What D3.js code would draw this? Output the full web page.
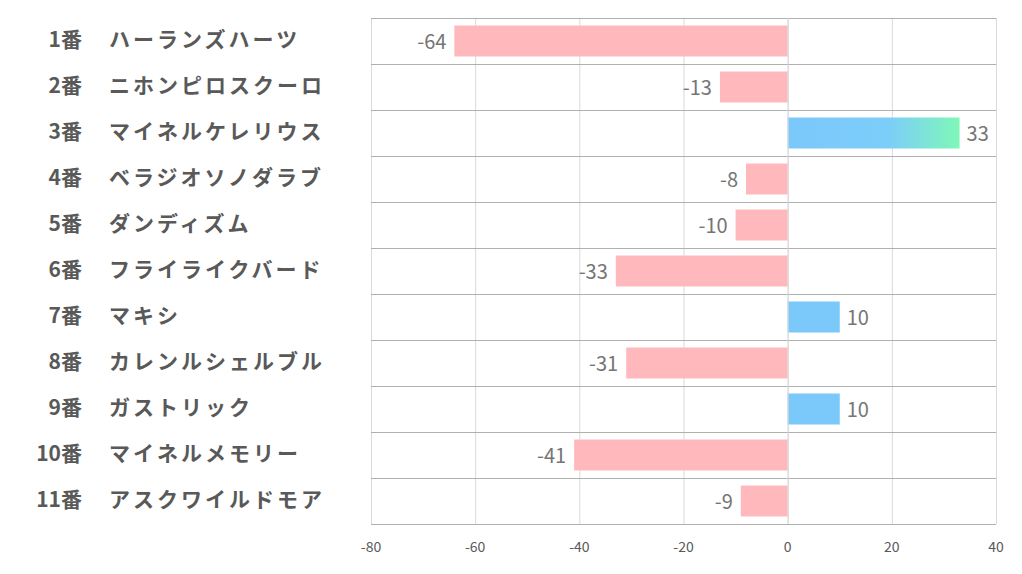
<!DOCTYPE html>
<html><head><meta charset="utf-8">
<script src="https://cdn.jsdelivr.net/npm/d3@7"></script>
<style>body{margin:0;background:#fff;} svg{display:block;}</style>
</head><body>
<svg id="c" width="1022" height="574"></svg>
<script>
const nums = ["1番","2番","3番","4番","5番","6番","7番","8番","9番","10番","11番"];
const names = ["ハーランズハーツ","ニホンピロスクーロ","マイネルケレリウス","ベラジオソノダラブ","ダンディズム","フライライクバード","マキシ","カレンルシェルブル","ガストリック","マイネルメモリー","アスクワイルドモア"];
const values = [-64,-13,33,-8,-10,-33,10,-31,10,-41,-9];
const ticks = [-80,-60,-40,-20,0,20,40];

const svg = d3.select("#c");
const L=371,R=996,T=18,B=524;
const x = d3.scaleLinear().domain([-80,40]).range([L,R]);
const y = d3.scaleBand().domain(d3.range(values.length)).range([T,B]).paddingInner(0).paddingOuter(0);
const font = "'Noto Sans CJK JP','Noto Sans',sans-serif";

const defs = svg.append("defs");
const g1 = defs.append("linearGradient").attr("id","grad").attr("x1","0").attr("x2","1").attr("y1","0").attr("y2","0");
g1.append("stop").attr("offset","0%").attr("stop-color","#7bc8fb");
g1.append("stop").attr("offset","58%").attr("stop-color","#7ccdfa");
g1.append("stop").attr("offset","100%").attr("stop-color","#7ff7b8");

svg.append("g").selectAll("line").data(ticks).join("line")
  .attr("x1",d=>x(d)+0.5).attr("x2",d=>x(d)+0.5).attr("y1",T).attr("y2",B)
  .attr("stroke","#d9d9d9").attr("stroke-width",1);
svg.append("g").selectAll("line").data(d3.range(values.length+1)).join("line")
  .attr("x1",L).attr("x2",R).attr("y1",i=>Math.round(T+i*y.step())+0.5).attr("y2",i=>Math.round(T+i*y.step())+0.5)
  .attr("stroke","#b0b0b0").attr("stroke-width",1);

const bh = 31;
svg.append("g").selectAll("rect").data(values).join("rect")
  .attr("x",d=>x(Math.min(0,d))).attr("width",d=>Math.abs(x(d)-x(0)))
  .attr("y",(d,i)=>y(i)+y.bandwidth()/2-bh/2).attr("height",bh)
  .attr("fill",(d,i)=> d<0 ? "#ffb9bc" : (d>20 ? "url(#grad)" : "#7bc9fb"));

svg.append("line").attr("x1",x(0)+0.5).attr("x2",x(0)+0.5).attr("y1",T).attr("y2",B).attr("stroke","#d9d9d9");

svg.append("g").selectAll("text").data(values).join("text")
  .attr("x",d=> d<0 ? x(d)-8 : x(d)+7)
  .attr("y",(d,i)=>y(i)+y.bandwidth()/2+3)
  .attr("text-anchor",d=>d<0?"end":"start").attr("dominant-baseline","middle")
  .attr("font-family",font).attr("font-size",20).attr("fill","#757575")
  .text(d=>d);

svg.append("g").selectAll("text").data(nums).join("text")
  .attr("x",82).attr("y",(d,i)=>y(i)+y.bandwidth()/2)
  .attr("text-anchor","end").attr("dominant-baseline","middle")
  .attr("font-family",font).attr("font-weight","bold").attr("font-size",21).attr("fill","#595959")
  .text(d=>d);
svg.append("g").selectAll("text").data(names).join("text")
  .attr("x",109).attr("y",(d,i)=>y(i)+y.bandwidth()/2)
  .attr("text-anchor","start").attr("dominant-baseline","middle")
  .attr("font-family",font).attr("font-weight","bold").attr("font-size",21).attr("letter-spacing",3).attr("fill","#595959")
  .text(d=>d);

svg.append("g").selectAll("text").data(ticks).join("text")
  .attr("x",d=>x(d)).attr("y",548).attr("text-anchor","middle").attr("dominant-baseline","middle")
  .attr("font-family",font).attr("font-size",14).attr("fill","#595959")
  .text(d=>d);
</script>
</body></html>
